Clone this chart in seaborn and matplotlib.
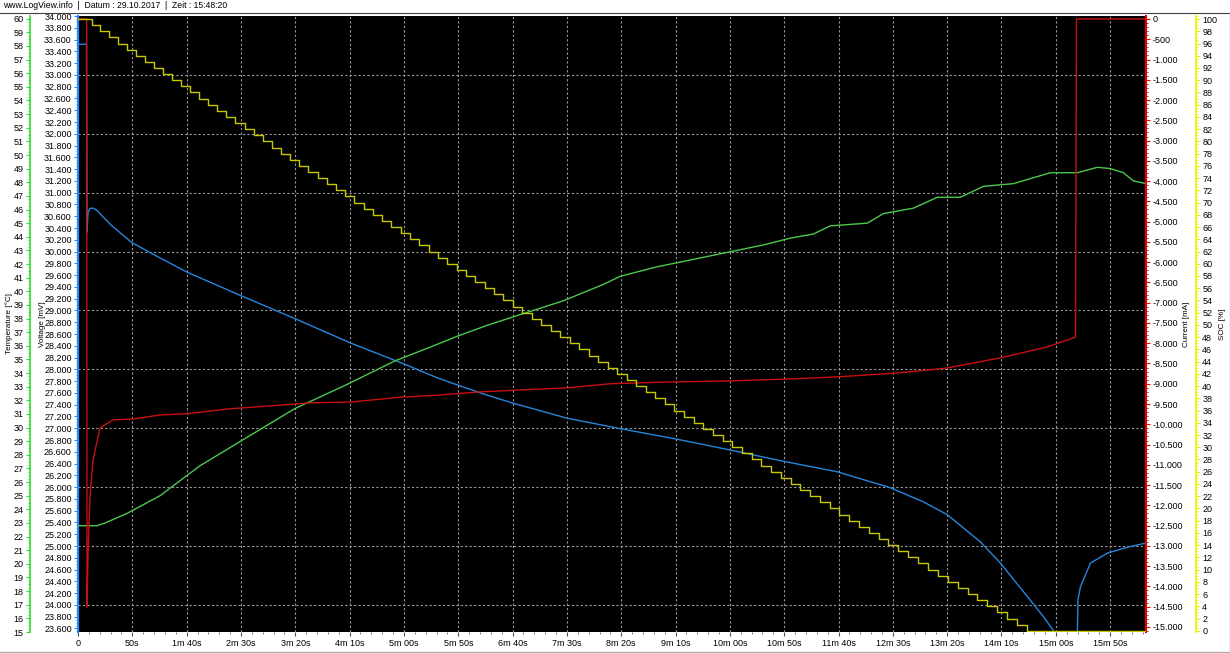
import matplotlib
matplotlib.use("Agg")
import matplotlib.pyplot as plt
from matplotlib.ticker import MultipleLocator, FixedLocator, FuncFormatter
from matplotlib.lines import Line2D
import seaborn as sns

plt.rcParams['font.family'] = ['Liberation Sans', 'DejaVu Sans']
plt.rcParams['font.size'] = 6.5

# time axis (seconds since start of log)
x_ticks_s = [0, 50, 100, 150, 200, 250, 300, 350, 400, 450,
             500, 550, 600, 650, 700, 750, 800, 850, 900, 950]
x_tick_labels = ["0", "50s", "1m 40s", "2m 30s", "3m 20s", "4m 10s", "5m 00s",
                 "5m 50s", "6m 40s", "7m 30s", "8m 20s", "9m 10s", "10m 00s",
                 "10m 50s", "11m 40s", "12m 30s", "13m 20s", "14m 10s",
                 "15m 00s", "15m 50s"]

# voltage [mV]
volt_t = [0, 7.8, 8.3, 9.2, 11, 13.8, 17.5, 23, 30.4, 49.7,
          73.7, 100.4, 150.1, 199.8, 250.5, 300.2, 331.5, 370.2, 399.6, 450.3,
          500, 549.7, 600.4, 646.4, 698.9, 747.7, 778.1, 800.2, 830.6, 849,
          873.9, 888.6, 898.7, 900, 918.5, 919.9, 920.4, 922.7, 931.9, 947.5,
          965.9, 983]
volt_mv = [33520, 33520, 30330, 30660, 30730, 30740, 30700, 30590, 30450, 30150,
           29910, 29650, 29250, 28860, 28450, 28090, 27850, 27600, 27430, 27170,
           26990, 26820, 26630, 26450, 26260, 25990, 25750, 25530, 25070, 24710,
           24140, 23800, 23540, 23000, 23000, 23580, 24090, 24310, 24710, 24880,
           24980, 25050]

# current [mA]
curr_t = [0, 8.0, 8.3, 9.2, 11, 13.8, 20.3, 32.2, 50.6, 75.5,
          100.4, 138.1, 175, 214.5, 251.4, 297.4, 331.5, 370.2, 450.3, 489.9,
          538.7, 600.4, 655.6, 698.9, 756.9, 800.2, 849, 892.3, 918.1, 919,
          983]
curr_ma = [0, 0, -14510, -13270, -11800, -10880, -10090, -9890, -9870, -9770,
           -9740, -9620, -9550, -9470, -9450, -9330, -9280, -9200, -9100, -9000,
           -8960, -8930, -8880, -8830, -8730, -8610, -8360, -8090, -7850, 0,
           0]

# temperature [°C]
temp_t = [0, 17.5, 24.9, 45.1, 75.5, 112.3, 153.8, 199.8, 245.9, 291.9,
          324.1, 349, 376.6, 399.6, 446.6, 483.4, 499.1, 533.1, 551.6, 600.4,
          630.8, 655.6, 676.8, 692.4, 726.5, 741.3, 768.9, 791, 812.2, 833.3,
          861, 895, 919.9, 938.3, 950.3, 962.2, 971.5, 983]
temp_c = [22.8, 22.8, 23.0, 23.7, 25.0, 27.2, 29.2, 31.4, 33.1, 34.9,
          35.9, 36.7, 37.5, 38.1, 39.3, 40.5, 41.1, 41.8, 42.1, 42.9,
          43.4, 43.9, 44.2, 44.8, 45.0, 45.7, 46.1, 46.9, 46.9, 47.7,
          47.9, 48.7, 48.7, 49.1, 49.0, 48.7, 48.1, 47.9]

# state of charge [%], one entry per 1% step
soc_t = [0, 12.5, 20.7, 28.9, 37.1, 45.4, 53.6, 61.9, 70.1, 78.4, 86.7,
         95.0, 103.3, 111.6, 119.9, 128.2, 136.6, 144.9, 153.3, 161.7, 170.0,
         178.4, 186.8, 195.3, 203.7, 212.1, 220.6, 229.0, 237.5, 246.0, 254.4,
         262.9, 271.4, 280.0, 288.5, 297.0, 305.6, 314.1, 322.7, 331.3, 339.9,
         348.5, 357.1, 365.7, 374.3, 383.0, 391.6, 400.3, 408.9, 417.6, 426.3,
         435.0, 443.7, 452.4, 461.2, 469.9, 478.7, 487.4, 496.2, 505.0, 513.8,
         522.6, 531.4, 540.2, 549.0, 557.9, 566.7, 575.6, 584.5, 593.3, 602.2,
         611.1, 620.1, 629.0, 637.9, 646.9, 655.8, 664.8, 673.8, 682.7, 691.7,
         700.7, 709.8, 718.8, 727.8, 736.9, 745.9, 755.0, 764.1, 773.2, 782.3,
         791.4, 800.5, 809.6, 818.8, 827.9, 837.1, 846.2, 855.4, 864.6, 873.8,
         983]
soc_pct = [100, 99, 98, 97, 96, 95, 94, 93, 92, 91, 90,
           89, 88, 87, 86, 85, 84, 83, 82, 81, 80,
           79, 78, 77, 76, 75, 74, 73, 72, 71, 70,
           69, 68, 67, 66, 65, 64, 63, 62, 61, 60,
           59, 58, 57, 56, 55, 54, 53, 52, 51, 50,
           49, 48, 47, 46, 45, 44, 43, 42, 41, 40,
           39, 38, 37, 36, 35, 34, 33, 32, 31, 30,
           29, 28, 27, 26, 25, 24, 23, 22, 21, 20,
           19, 18, 17, 16, 15, 14, 13, 12, 11, 10,
           9, 8, 7, 6, 5, 4, 3, 2, 1, 0,
           0]

c_volt, c_volt_ax = '#2586dc', '#1e8cff'
c_curr, c_curr_ax = '#c81010', '#e00000'
c_temp, c_temp_ax = '#4cc84c', '#30dd30'
c_soc, c_soc_ax = '#c8c800', '#f0f000'

W, H = 1230, 653
fig = plt.figure(figsize=(W / 100, H / 100), dpi=100)
fig.patch.set_facecolor('white')
L, R, T, B = 78, 1146, 16, 632
ax_v = fig.add_axes([L / W, (H - B) / H, (R - L) / W, (B - T) / H])
ax_v.set_facecolor('black')
ax_t = ax_v.twinx()
ax_i = ax_v.twinx()
ax_s = ax_v.twinx()

def px(x):
    return (x - L) / (R - L)

# lines
sns.lineplot(x=temp_t, y=temp_c, ax=ax_t, color=c_temp, lw=1, estimator=None, sort=False)
sns.lineplot(x=volt_t, y=volt_mv, ax=ax_v, color=c_volt, lw=1, estimator=None, sort=False)
sns.lineplot(x=curr_t, y=curr_ma, ax=ax_i, color=c_curr, lw=1, estimator=None, sort=False)
sns.lineplot(x=soc_t, y=soc_pct, ax=ax_s, color=c_soc, lw=1, estimator=None, sort=False,
             drawstyle='steps-post')

ax_v.set_xlim(0, 983)
ax_v.set_ylim(23540, 34000)
ax_t.set_ylim(15, 60.2)
ax_i.set_ylim(-15125, 74)
ax_s.set_ylim(-0.2, 100.5)

# x axis
ax_v.xaxis.set_major_locator(FixedLocator(x_ticks_s))
ax_v.set_xticklabels(x_tick_labels)
ax_v.xaxis.set_minor_locator(MultipleLocator(10))
ax_v.tick_params(axis='x', which='major', length=3, color='#505050', pad=2)
ax_v.tick_params(axis='x', which='minor', length=1.5, color='#505050')
ax_v.grid(axis='x', which='major', color='#9a9a9a', ls=(0, (2, 2)), lw=0.8)
for v in [24000, 25000, 26000, 27000, 28000, 29000, 30000, 31000, 32000, 33000]:
    ax_v.axhline(v, color='#9a9a9a', ls=(0, (2, 2)), lw=0.8, zorder=0.5)

thousands = FuncFormatter(lambda v, p: f"{v:,.0f}".replace(',', '.'))

# voltage axis (main left spine)
ax_v.yaxis.set_major_locator(MultipleLocator(200))
ax_v.yaxis.set_minor_locator(MultipleLocator(50))
ax_v.yaxis.set_major_formatter(thousands)
ax_v.tick_params(axis='y', which='major', length=3, color=c_volt_ax, pad=1.5)
ax_v.tick_params(axis='y', which='minor', length=1.5, color=c_volt_ax)
for s in ['top', 'right', 'bottom']:
    ax_v.spines[s].set_visible(False)
ax_v.spines['left'].set_color(c_volt_ax)
ax_v.spines['left'].set_linewidth(1.5)
ax_v.set_ylabel('Voltage [mV]', fontsize=5.8)
ax_v.yaxis.set_label_coords(px(42), 0.5)
ax_v.yaxis.label.set_va('center')

# temperature axis (outer left)
for s in ['top', 'right', 'bottom']:
    ax_t.spines[s].set_visible(False)
ax_t.spines['left'].set_visible(True)
ax_t.spines['left'].set_position(('axes', px(30)))
ax_t.spines['left'].set_color(c_temp_ax)
ax_t.spines['left'].set_linewidth(1.2)
ax_t.yaxis.set_ticks_position('left')
ax_t.yaxis.set_label_position('left')
ax_t.yaxis.set_major_locator(MultipleLocator(1))
ax_t.yaxis.set_minor_locator(MultipleLocator(0.25))
ax_t.yaxis.set_major_formatter(FuncFormatter(lambda v, p: f"{v:.0f}"))
ax_t.tick_params(axis='y', which='major', length=3, color=c_temp_ax, pad=1.5)
ax_t.tick_params(axis='y', which='minor', length=1.5, color=c_temp_ax)
ax_t.set_ylabel('Temperature [°C]', fontsize=5.8)
ax_t.yaxis.set_label_coords(px(9), 0.5)
ax_t.yaxis.label.set_va('center')

# current axis (right spine)
for s in ['top', 'left', 'bottom']:
    ax_i.spines[s].set_visible(False)
ax_i.spines['right'].set_color(c_curr_ax)
ax_i.spines['right'].set_linewidth(1.5)
ax_i.yaxis.set_major_locator(MultipleLocator(500))
ax_i.yaxis.set_minor_locator(MultipleLocator(100))
ax_i.yaxis.set_major_formatter(thousands)
ax_i.tick_params(axis='y', which='major', length=3, color=c_curr_ax, pad=1.5)
ax_i.tick_params(axis='y', which='minor', length=1.5, color=c_curr_ax)
ax_i.set_ylabel('Current [mA]', fontsize=5.8, rotation=90)
ax_i.yaxis.set_label_coords(px(1186), 0.5)
ax_i.yaxis.label.set_va('center')

# SOC axis (outer right)
for s in ['top', 'left', 'bottom']:
    ax_s.spines[s].set_visible(False)
ax_s.spines['right'].set_position(('axes', px(1196)))
ax_s.spines['right'].set_color(c_soc_ax)
ax_s.spines['right'].set_linewidth(1.2)
ax_s.yaxis.set_major_locator(MultipleLocator(2))
ax_s.yaxis.set_minor_locator(MultipleLocator(0.5))
ax_s.yaxis.set_major_formatter(FuncFormatter(lambda v, p: f"{v:.0f}"))
ax_s.tick_params(axis='y', which='major', length=3, color=c_soc_ax, pad=1.5)
ax_s.tick_params(axis='y', which='minor', length=1.5, color=c_soc_ax)
ax_s.set_ylabel('SOC [%]', fontsize=5.8, rotation=90)
ax_s.yaxis.set_label_coords(px(1222), 0.5)
ax_s.yaxis.label.set_va('center')

for a in [ax_v, ax_t, ax_i, ax_s]:
    a.set_xlabel('')

# header and frame
fig.text(3 / W, 1 - 6 / H, "www.LogView.info  |  Datum : 29.10.2017  |  Zeit : 15:48:20",
         ha='left', va='center', fontsize=6.2)
fig.add_artist(Line2D([0, 1], [1 - 12.5 / H, 1 - 12.5 / H], color='#404040', lw=0.8))
fig.add_artist(Line2D([0, 1, 1], [1.5 / H, 1.5 / H, 1 - 12.5 / H], color='#b0b0b0', lw=1))

fig.savefig('out.png', dpi=100, facecolor='white')
